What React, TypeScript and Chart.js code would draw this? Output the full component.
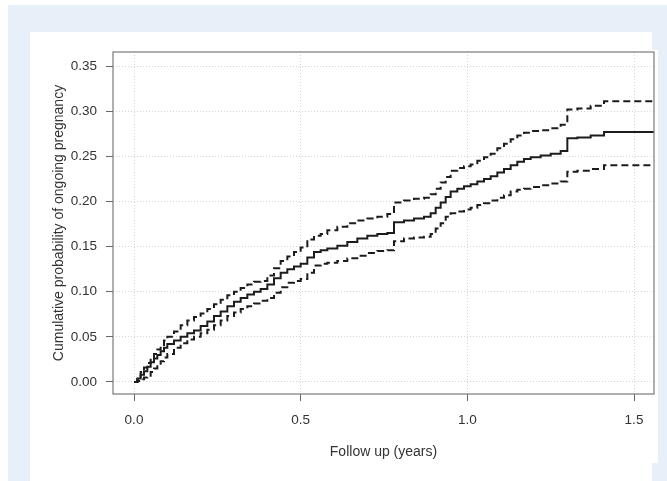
import React, { useEffect, useRef } from "react";
import { Chart, registerables } from "chart.js";

Chart.register(...registerables);

// Follow-up times (years) at which the step curves change
const TIMES = [
  0.0, 0.01, 0.02, 0.03, 0.04, 0.05, 0.06, 0.07, 0.08, 0.09, 0.1,
  0.12, 0.14, 0.16, 0.18, 0.2, 0.22, 0.24, 0.26, 0.28, 0.3, 0.32, 0.34, 0.36, 0.38, 0.4,
  0.42, 0.44, 0.46, 0.48, 0.5, 0.52, 0.54, 0.56, 0.58,
  0.61, 0.64, 0.67, 0.7, 0.73, 0.76, 0.78, 0.81, 0.84, 0.87,
  0.89, 0.905, 0.92, 0.935, 0.95, 0.97, 0.99,
  1.01, 1.03, 1.05, 1.07, 1.09, 1.11, 1.13, 1.15, 1.17, 1.19,
  1.22, 1.25, 1.28, 1.3, 1.33, 1.37, 1.41, 1.56,
];
// Cumulative probability of ongoing pregnancy (estimate)
const ESTIMATE = [
  0.0, 0.004, 0.008, 0.012, 0.017, 0.022, 0.026, 0.03, 0.034, 0.038, 0.042,
  0.046, 0.05, 0.054, 0.057, 0.062, 0.067, 0.073, 0.078, 0.084, 0.089, 0.093, 0.097, 0.1, 0.103, 0.108,
  0.115, 0.121, 0.125, 0.128, 0.131, 0.138, 0.144, 0.146, 0.148,
  0.151, 0.155, 0.159, 0.162, 0.164, 0.165, 0.177, 0.179, 0.181, 0.183,
  0.187, 0.193, 0.199, 0.205, 0.211, 0.214, 0.217,
  0.219, 0.222, 0.225, 0.228, 0.232, 0.236, 0.24, 0.244, 0.247, 0.249,
  0.251, 0.253, 0.256, 0.27, 0.271, 0.273, 0.277, 0.277,
];
// Upper confidence limit
const UPPER = [
  0.0, 0.006, 0.011, 0.016, 0.021, 0.026, 0.031, 0.036, 0.041, 0.046, 0.05,
  0.056, 0.063, 0.068, 0.072, 0.076, 0.081, 0.086, 0.091, 0.096, 0.1, 0.104, 0.108, 0.111, 0.112, 0.118,
  0.126, 0.134, 0.139, 0.144, 0.149, 0.158, 0.162, 0.164, 0.168,
  0.172, 0.176, 0.179, 0.181, 0.183, 0.186, 0.199, 0.201, 0.203, 0.204,
  0.208, 0.214, 0.221, 0.227, 0.234, 0.237, 0.239,
  0.241, 0.245, 0.249, 0.253, 0.259, 0.264, 0.269, 0.273, 0.276, 0.278,
  0.279, 0.281, 0.285, 0.302, 0.303, 0.306, 0.311, 0.311,
];
// Lower confidence limit
const LOWER = [
  0.0, 0.001, 0.003, 0.005, 0.007, 0.011, 0.015, 0.019, 0.023, 0.027, 0.031,
  0.038, 0.043, 0.047, 0.05, 0.054, 0.058, 0.063, 0.068, 0.073, 0.077, 0.081, 0.084, 0.087, 0.09, 0.093,
  0.099, 0.105, 0.11, 0.112, 0.114, 0.121, 0.129, 0.131, 0.132,
  0.134, 0.137, 0.14, 0.143, 0.145, 0.146, 0.156, 0.159, 0.16, 0.161,
  0.164, 0.17, 0.176, 0.183, 0.187, 0.189, 0.191,
  0.193, 0.196, 0.198, 0.201, 0.204, 0.207, 0.211, 0.213, 0.214, 0.216,
  0.218, 0.22, 0.222, 0.233, 0.234, 0.236, 0.24, 0.24,
];

const X_TICKS = [0, 0.5, 1.0, 1.5];
const Y_TICKS = [0, 0.05, 0.1, 0.15, 0.2, 0.25, 0.3, 0.35];
const X_TITLE = "Follow up (years)";
const Y_TITLE = "Cumulative probability of ongoing pregnancy";

const W = 667;
const H = 481;
const FONT = "'Liberation Sans', Arial, Helvetica, sans-serif";
const TEXT = "#333333";

const toPoints = (ys: number[]) => TIMES.map((t, i) => ({ x: t, y: ys[i] }));

const backgroundPlugin = {
  id: "pageBackground",
  beforeDraw(chart: any) {
    const ctx = chart.ctx;
    ctx.save();
    ctx.fillStyle = "#ffffff";
    ctx.fillRect(0, 0, W, H);
    ctx.fillStyle = "#e7eff8";
    ctx.fillRect(8, 5, W - 8, H - 5);
    ctx.fillStyle = "#ffffff";
    ctx.fillRect(30, 32, 622, H - 32);
    ctx.fillRect(652, 50, 6, 413);
    ctx.restore();
  },
  afterDraw(chart: any) {
    const { ctx, chartArea } = chart;
    ctx.save();
    ctx.strokeStyle = "#7a7a7a";
    ctx.lineWidth = 1.2;
    ctx.strokeRect(chartArea.left, chartArea.top, chartArea.right - chartArea.left, chartArea.bottom - chartArea.top);
    ctx.restore();
  },
};

export default function App() {
  const ref = useRef<HTMLCanvasElement | null>(null);

  useEffect(() => {
    if (!ref.current) return;
    const lineBase = {
      stepped: true as const,
      pointRadius: 0,
      borderColor: "#1c1c1c",
      borderWidth: 2,
      fill: false,
    };
    const chart = new Chart(ref.current, {
      type: "line",
      data: {
        datasets: [
          { ...lineBase, label: "Estimate", data: toPoints(ESTIMATE) },
          { ...lineBase, label: "Upper", data: toPoints(UPPER), borderDash: [7, 4] },
          { ...lineBase, label: "Lower", data: toPoints(LOWER), borderDash: [7, 4] },
        ],
      },
      options: {
        animation: false,
        responsive: false,
        devicePixelRatio: 1,
        layout: { padding: { left: 0, top: 52, right: 13, bottom: 0 } },
        plugins: { legend: { display: false }, tooltip: { enabled: false } },
        scales: {
          x: {
            type: "linear",
            min: -0.063,
            max: 1.56,
            afterBuildTicks: (s: any) => {
              s.ticks = X_TICKS.map((v) => ({ value: v }));
            },
            afterFit: (s: any) => {
              s.height = 87;
            },
            ticks: {
              callback: (v: any) => Number(v).toFixed(1),
              color: TEXT,
              font: { family: FONT, size: 13.5 },
              padding: 11,
              maxRotation: 0,
              autoSkip: false,
            },
            grid: {
              color: "#d6d6d6",
              lineWidth: 1,
              tickLength: 7,
              tickColor: "#666666",
              tickWidth: 1,
            },
            border: { display: false, dash: [1, 2] },
            title: {
              display: true,
              text: X_TITLE,
              color: TEXT,
              font: { family: FONT, size: 14 },
              padding: { top: 0, bottom: 20.6 },
            },
          },
          y: {
            type: "linear",
            min: -0.0133,
            max: 0.3656,
            afterBuildTicks: (s: any) => {
              s.ticks = Y_TICKS.map((v) => ({ value: v }));
            },
            afterFit: (s: any) => {
              s.width = 113;
            },
            ticks: {
              callback: (v: any) => Number(v).toFixed(2),
              color: TEXT,
              font: { family: FONT, size: 13.5 },
              padding: 9,
              autoSkip: false,
            },
            grid: {
              color: "#d6d6d6",
              lineWidth: 1,
              tickLength: 7,
              tickColor: "#666666",
              tickWidth: 1,
            },
            border: { display: false, dash: [1, 2] },
            title: {
              display: true,
              text: Y_TITLE,
              color: TEXT,
              font: { family: FONT, size: 14 },
              padding: { top: 50.6, bottom: 0 },
            },
          },
        },
      },
      plugins: [backgroundPlugin],
    } as any);
    return () => chart.destroy();
  }, []);

  return (
    <div style={{ position: "fixed", left: 0, top: 0, width: W, height: H }}>
      <canvas ref={ref} width={W} height={H} style={{ width: W, height: H, display: "block" }} />
    </div>
  );
}
